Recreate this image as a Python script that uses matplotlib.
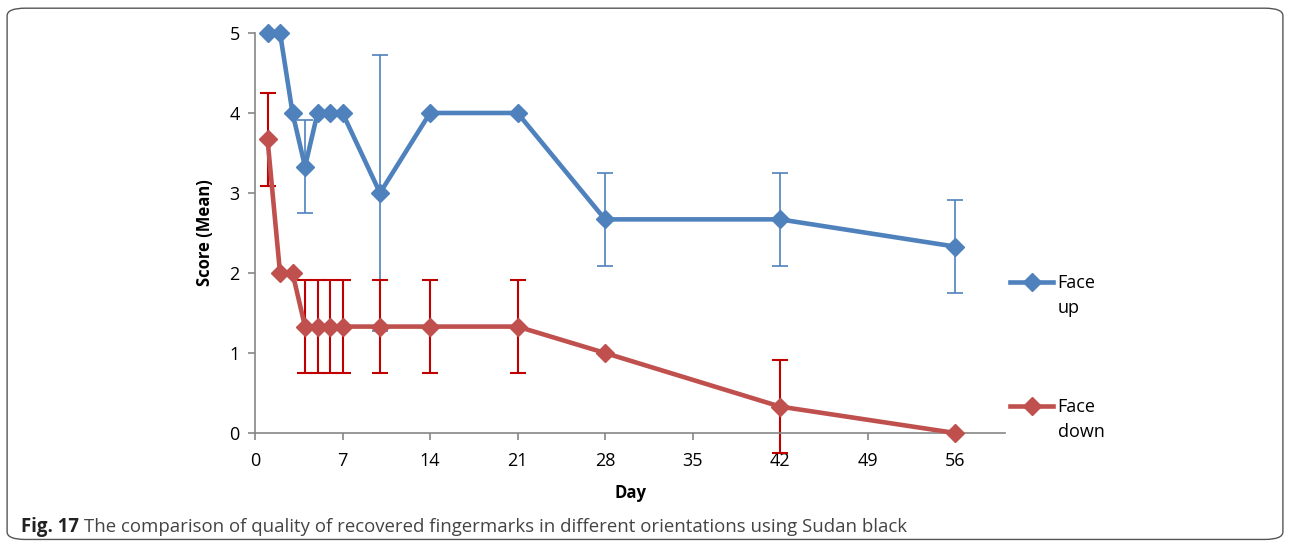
import matplotlib.pyplot as plt
from matplotlib.patches import FancyBboxPatch
from matplotlib.lines import Line2D

plt.rcParams['font.family'] = ['Open Sans', 'DejaVu Sans']

# data
days_up = [1, 2, 3, 4, 5, 6, 7, 10, 14, 21, 28, 42, 56]
face_up = [5, 5, 4, 3.33, 4, 4, 4, 3, 4, 4, 2.67, 2.67, 2.33]
err_up = [0, 0, 0, 0.58, 0, 0, 0, 1.73, 0, 0, 0.58, 0.58, 0.58]

days_down = [1, 2, 3, 4, 5, 6, 7, 10, 14, 21, 28, 42, 56]
face_down = [3.67, 2, 2, 1.33, 1.33, 1.33, 1.33, 1.33, 1.33, 1.33, 1, 0.33, 0]
err_down = [0.58, 0, 0, 0.58, 0.58, 0.58, 0.58, 0.58, 0.58, 0.58, 0, 0.58, 0]

xticks = [0, 7, 14, 21, 28, 35, 42, 49, 56]
yticks = [0, 1, 2, 3, 4, 5]

blue = '#4F81BD'
red = '#C0504D'
red_err = '#C00000'
gray = '#868686'

fig = plt.figure(figsize=(12.9, 5.46), dpi=100)
ax = fig.add_axes([0.1977, 0.207, 0.5814, 0.7326])

# error bars only where non-zero
def draw_err(x, y, e, color, lw, cap):
    xs = [a for a, b in zip(x, e) if b > 0]
    ys = [a for a, b in zip(y, e) if b > 0]
    es = [b for b in e if b > 0]
    ax.errorbar(xs, ys, yerr=es, fmt='none', ecolor=color, elinewidth=lw,
                capsize=cap, capthick=lw, clip_on=False, zorder=2)

draw_err(days_up, face_up, err_up, blue, 1.2, 6)
ax.plot(days_up, face_up, color=blue, lw=3.3, marker='D', ms=9.5, zorder=3,
        clip_on=False)
draw_err(days_down, face_down, err_down, red_err, 1.5, 6)
ax.plot(days_down, face_down, color=red, lw=3.3, marker='D', ms=9.5, zorder=4,
        clip_on=False)

ax.set_xlim(0, 60)
ax.set_ylim(0, 5)
ax.set_xticks(xticks)
ax.set_yticks(yticks)
for s in ['top', 'right']:
    ax.spines[s].set_visible(False)
for s in ['left', 'bottom']:
    ax.spines[s].set_color(gray)
    ax.spines[s].set_linewidth(1.2)
ax.tick_params(color=gray, width=1.2, length=5, labelsize=13)
ax.tick_params(axis='x', pad=9)
ax.tick_params(axis='y', pad=6)
ax.set_xlabel('Day', fontsize=12, fontweight='bold', labelpad=10)
ax.set_ylabel('Score (Mean)', fontsize=12, fontweight='bold', labelpad=11)

# legend drawn on the right
for yk, col, l1, l2 in [(0.4835, blue, 'Face', 'up'), (0.2564, red, 'Face', 'down')]:
    fig.add_artist(Line2D([0.783, 0.8163], [yk, yk], color=col, lw=3.3,
                          transform=fig.transFigure))
    fig.add_artist(Line2D([0.7997], [yk], color=col, marker='D', ms=9.5,
                          transform=fig.transFigure))
    fig.text(0.8198, yk + 0.015, l1 + '\n' + l2, fontsize=13, va='top',
             linespacing=1.5)

# frame and caption
fig.add_artist(FancyBboxPatch((0.0055, 0.012), 0.989, 0.973,
                              boxstyle='round,pad=0,rounding_size=0.014',
                              transform=fig.transFigure, fill=False,
                              edgecolor='#555555', lw=1.0))
t1 = fig.text(0.0165, 0.026, 'Fig. 17', fontsize=13.4, fontweight='bold',
              va='baseline', color='#222222')
fig.canvas.draw()
bb = t1.get_window_extent()
fig.text(bb.x1 / fig.bbox.width + 0.004, 0.026,
         'The comparison of quality of recovered fingermarks in different '
         'orientations using Sudan black', fontsize=13.4, va='baseline',
         color='#444444')

fig.savefig('out.png', dpi=100)
